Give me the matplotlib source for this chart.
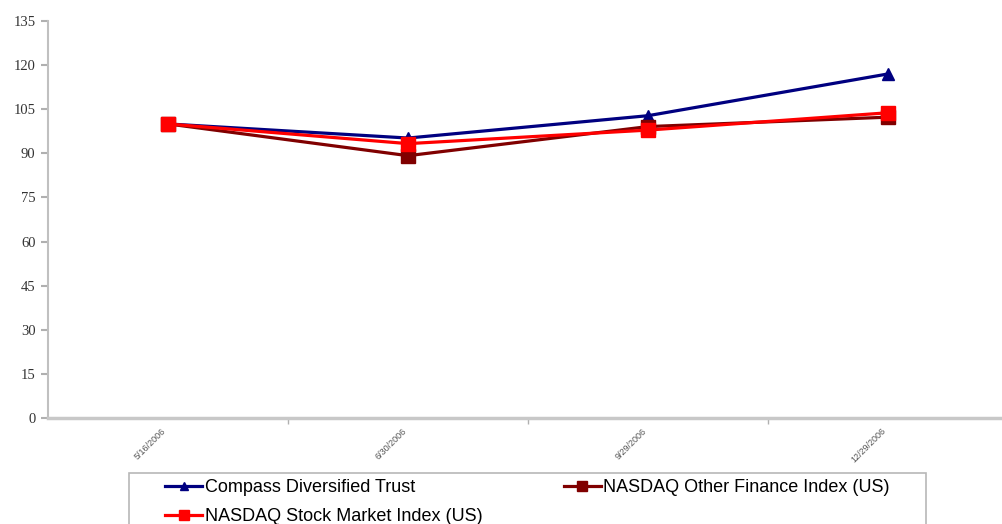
import numpy as np
import matplotlib
matplotlib.use('Agg')
import matplotlib.pyplot as plt
from matplotlib.patches import Rectangle
from matplotlib.ticker import FixedLocator

dates = ['5/16/2006', '6/30/2006', '9/29/2006', '12/29/2006']
compass = [100, 95.2, 102.8, 117]
nasdaq_fin = [100, 89.2, 99.1, 102.3]
nasdaq_mkt = [100, 93.3, 97.9, 103.8]

series = [
    ('Compass Diversified Trust', compass, '#000080', '^', 9),
    ('NASDAQ Other Finance Index (US)', nasdaq_fin, '#800000', 's', 10),
    ('NASDAQ Stock Market Index (US)', nasdaq_mkt, '#ff0000', 's', 10),
]

W, H = 1002, 524
fig = plt.figure(figsize=(W / 100, H / 100), dpi=100)
ax = fig.add_axes([48 / W, 1 - 418 / H, 960 / W, 397 / H])

x = np.arange(len(dates))
handles = {}
for name, vals, color, mk, ms in series:
    h, = ax.plot(x, vals, color=color, lw=2.3, marker=mk, markersize=ms,
                 markeredgecolor=color, label=name)
    handles[name] = h

ax.set_xlim(-0.5, len(dates) - 0.5)
ax.set_ylim(0, 135)
ax.set_yticks(np.arange(0, 136, 15))
ax.tick_params(axis='y', colors='#b0b0b0', labelcolor='#333333', length=5,
               width=1.5, direction='out', pad=4)
for lab in ax.get_yticklabels():
    lab.set_family('Liberation Serif')
    lab.set_fontsize(10.5)

ax.set_xticks(x)
ax.set_xticklabels(dates, rotation=45, ha='right', va='top',
                   fontsize=6.5, color='#555555', family='Liberation Sans')
ax.xaxis.set_minor_locator(FixedLocator(np.arange(0.5, len(dates) - 0.5)))
ax.tick_params(axis='x', which='major', length=0, pad=6)
ax.tick_params(axis='x', which='minor', length=4, width=1, color='#b0b0b0',
               direction='out')

for s in ['top', 'right']:
    ax.spines[s].set_visible(False)
ax.spines['left'].set_color('#c0c0c0')
ax.spines['left'].set_linewidth(1.5)
ax.spines['bottom'].set_color('#c8c8c8')
ax.spines['bottom'].set_linewidth(2.5)

# legend box drawn separately, legend entries filled row by row
fig.patches.append(Rectangle((129 / W, -0.05), (926 - 129) / W, 0.05 + 1 - 473 / H,
                             transform=fig.transFigure, fill=False,
                             edgecolor='#b8b8b8', lw=1.2))
order = ['Compass Diversified Trust', 'NASDAQ Stock Market Index (US)',
         'NASDAQ Other Finance Index (US)']
leg = fig.legend(handles=[handles[n] for n in order], loc='upper left', ncol=2,
                 bbox_to_anchor=(165 / W, 1 - 479 / H),
                 prop={'family': 'Liberation Sans', 'size': 13},
                 frameon=False, handlelength=2.05, handletextpad=0.15,
                 columnspacing=4.5, labelspacing=0.68, borderpad=0,
                 borderaxespad=0, markerscale=0.65)

fig.savefig('out.png', dpi=100)
